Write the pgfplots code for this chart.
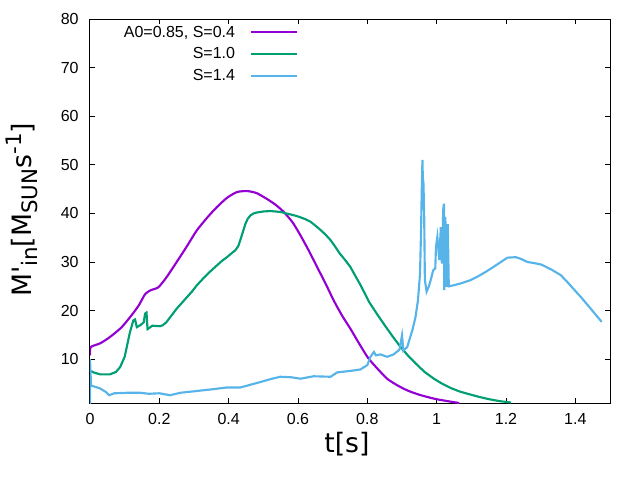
\documentclass[border=0pt]{standalone}
\usepackage{pgfplots}
\pgfplotsset{compat=1.18}
\usepackage{fontspec}
\setmainfont{Liberation Sans}
\newfontfamily\labelfont{DejaVu Sans}
\definecolor{gpurple}{RGB}{148,0,211}
\definecolor{ggreen}{RGB}{0,158,115}
\definecolor{gblue}{RGB}{86,180,233}
\newcommand{\sub}[1]{\raisebox{-4.5pt}{\fontsize{16pt}{16pt}\selectfont #1}}
\newcommand{\sups}[1]{\raisebox{7pt}{\fontsize{16pt}{16pt}\selectfont #1}}
\begin{document}
\begin{tikzpicture}
\useasboundingbox (0,0) rectangle (480pt,360pt);
\begin{axis}[
  at={(67.5pt,57.75pt)}, anchor=south west,
  scale only axis, width=390pt, height=288pt,
  xmin=0, xmax=1.5, ymin=1, ymax=80,
  xtick={0,0.2,0.4,0.6,0.8,1,1.2,1.4},
  ytick={10,20,30,40,50,60,70,80},
  minor tick num=0,
  tick align=inside,
  major tick length=3.5pt,
  axis line style={line width=0.75pt},
  every tick/.style={black, line width=0.75pt},
  /pgf/number format/assume math mode=true,
  ticklabel style={font=\fontsize{12pt}{14pt}\selectfont},
  xticklabel style={yshift=-4.5pt},
  yticklabel style={xshift=-5pt},
  xlabel={t[s]},
  ylabel={M'\sub{in}[M\sub{SUN}s\sups{-1}]},
  every axis x label/.style={at={(axis description cs:0.494,-0.107)}, anchor=center, font=\labelfont\fontsize{20pt}{24pt}\selectfont},
  every axis y label/.style={at={(axis description cs:-0.131,0.503)}, rotate=90, anchor=center, font=\labelfont\fontsize{20pt}{24pt}\selectfont},
  legend cell align=right,
  legend plot pos=right,
  legend style={at={(axis cs:0.6015,79.2)}, anchor=north east, draw=none, fill=none,
    font=\fontsize{12pt}{14pt}\selectfont, row sep=2.6pt, inner sep=0pt},
  legend image code/.code={\path (0pt,0pt); \draw[#1, line width=1.6pt] (9.5pt,0pt) -- (43.8pt,0pt);},
]
\addplot[gpurple, line width=1.6pt, smooth, tension=0.4] coordinates {
(0,10.8) (0.002,12.5) (0.03,13.3) (0.058,14.6) (0.09,16.5) (0.116,18.7) (0.14,21)
(0.159,23.4) (0.175,24.2) (0.197,24.8) (0.22,26.8) (0.25,30) (0.28,33.3) (0.308,36.5)
(0.34,39.3) (0.366,41.3) (0.395,43.2) (0.424,44.4) (0.453,44.6) (0.48,44.2) (0.51,43)
(0.535,41.8) (0.559,40.3) (0.585,38.1) (0.607,35.5) (0.63,32.5) (0.655,29) (0.68,25.5)
(0.703,22.1) (0.727,19) (0.751,16.3) (0.775,13.4) (0.802,10.3) (0.83,8.0) (0.857,6.0)
(0.885,4.7) (0.915,3.6) (0.95,2.7) (0.992,1.9) (1.03,1.4) (1.065,1.0)
};
\addlegendentry{A0=0.85, S=0.4}
\addplot[ggreen, line width=1.6pt] coordinates {
(0,7.7) (0.01,7.3) (0.029,6.9) (0.058,6.9) (0.075,7.4) (0.087,8.4) (0.1,10.5) (0.106,12.5)
(0.115,15.5) (0.125,18) (0.13,18.2) (0.135,16.6) (0.145,17) (0.155,17.6) (0.159,19.4)
(0.163,19.6) (0.166,16.2) (0.18,16.9) (0.202,16.8) (0.21,17.0) (0.22,17.6) (0.235,19.0)
(0.25,20.4) (0.265,21.6) (0.28,22.8) (0.295,24.0) (0.308,25.2) (0.325,26.5) (0.34,27.6)
(0.355,28.6) (0.366,29.3) (0.38,30.2) (0.395,31) (0.41,31.9) (0.419,32.4) (0.428,33.3)
(0.438,35.5) (0.448,37.8) (0.455,38.9) (0.463,39.6) (0.472,40.0) (0.482,40.2) (0.50,40.4)
(0.52,40.5) (0.55,40.3) (0.578,39.8) (0.595,39.5) (0.607,39.2) (0.622,38.8) (0.636,38.3)
(0.65,37.5) (0.665,36.6) (0.68,35.6) (0.694,34.5) (0.707,33.2) (0.72,31.8) (0.735,30.5)
(0.751,29) (0.765,27.2) (0.78,25.3) (0.793,23.5) (0.805,21.8) (0.828,19.3) (0.85,17)
(0.873,14.7) (0.896,12.5) (0.918,10.7) (0.94,9.1) (0.965,7.4) (0.992,6.0) (1.015,5.0)
(1.04,4.1) (1.065,3.4) (1.089,2.9) (1.12,2.3) (1.15,1.8) (1.18,1.4) (1.214,1.1)
};
\addlegendentry{S=1.0}
\addplot[gblue, line width=1.6pt] coordinates {
(0,0.5) (0,10) (0.003,4.6) (0.029,4.0) (0.045,3.3) (0.055,2.6) (0.07,3.0) (0.106,3.1)
(0.145,3.1) (0.17,2.9) (0.2,3.0) (0.231,2.6) (0.26,3.1) (0.299,3.4) (0.35,3.8) (0.395,4.2)
(0.434,4.2) (0.46,4.7) (0.491,5.3) (0.52,5.9) (0.549,6.4) (0.58,6.3) (0.607,6.0) (0.645,6.5)
(0.694,6.4) (0.713,7.3) (0.751,7.6) (0.78,7.9) (0.8,8.8) (0.809,10.5) (0.819,11.5)
(0.825,10.8) (0.838,11) (0.857,10.5) (0.876,11) (0.893,12) (0.9,14.9) (0.904,11.8)
(0.915,12.5) (0.93,16) (0.939,18.7) (0.946,22.1) (0.952,27.6) (0.955,36.5) (0.957,44.8)
(0.959,51) (0.960,47.5) (0.962,46.1) (0.964,39.3) (0.966,26.3) (0.971,23.9) (0.977,24.9)
(0.984,26.6) (0.99,28.3) (0.996,28.7) (0.998,33.1) (1.002,35.2) (1.0075,30.4) (1.012,37.2)
(1.015,29.7) (1.019,40.8) (1.021,42) (1.022,24.2) (1.025,39.3) (1.029,24.9) (1.032,37.8)
(1.035,25) (1.048,25.2) (1.069,25.6) (1.095,26.2) (1.118,27) (1.142,28.0) (1.166,29.1)
(1.185,30.0) (1.204,30.9) (1.228,31.0) (1.245,30.6) (1.262,30) (1.28,29.8) (1.301,29.5)
(1.33,28.5) (1.358,27.3) (1.378,25.8) (1.397,24.3) (1.416,22.8) (1.435,21.2) (1.456,19.4)
(1.476,17.7)
};
\addlegendentry{S=1.4}
\end{axis}
\end{tikzpicture}
\end{document}
